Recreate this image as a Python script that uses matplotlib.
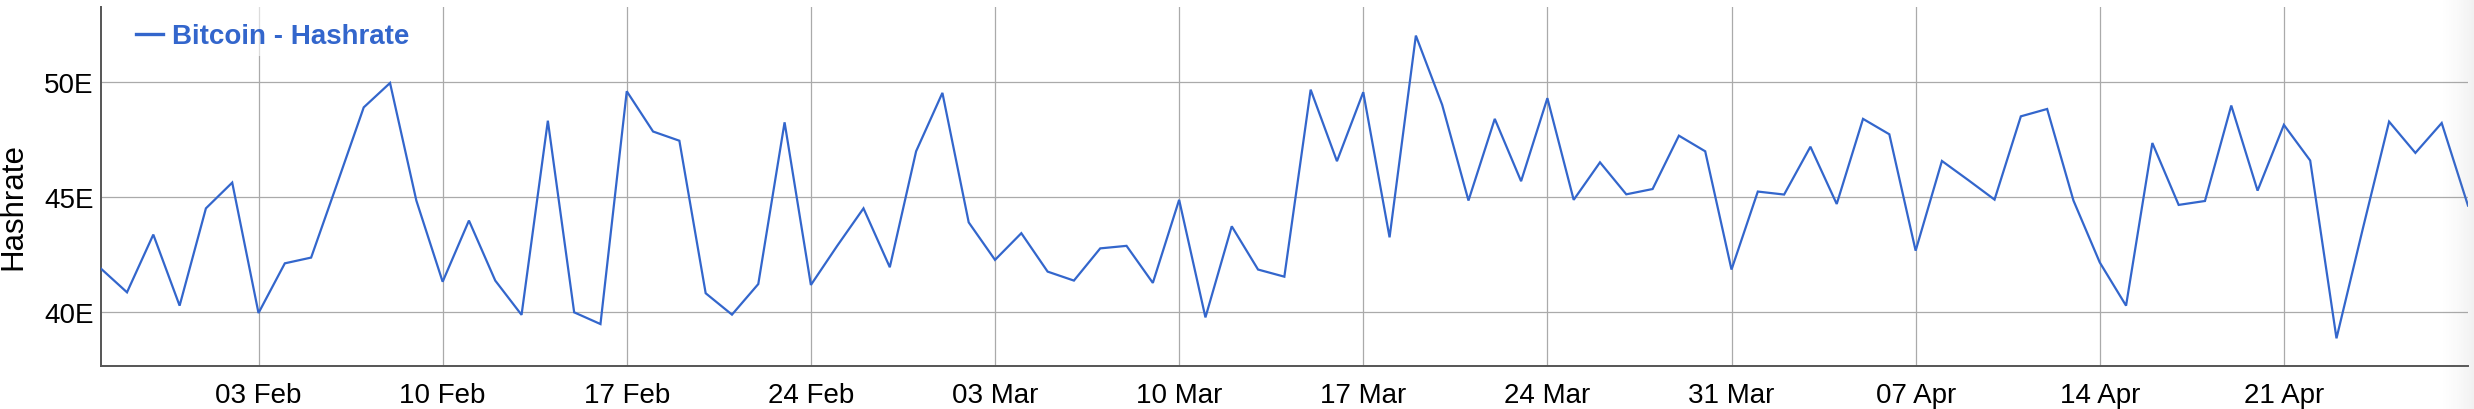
import numpy as np
import pandas as pd
import matplotlib
matplotlib.use("Agg")
import matplotlib.pyplot as plt
import matplotlib.dates as mdates
from matplotlib.ticker import FuncFormatter, FixedLocator
from matplotlib.patches import Rectangle
from matplotlib.lines import Line2D

plt.rcParams['font.family'] = ['Liberation Sans', 'DejaVu Sans']

# ---- data ----
start_date = "2019-01-28"
end_date = "2019-04-28"
hashrate = [
    41.88, 40.84, 43.35, 40.26,                                   # Jan 28-31
    44.49, 45.61, 39.94, 42.10, 42.35, 45.60, 48.88, 49.94, 44.83, 41.30,
    43.96, 41.35, 39.86, 48.30, 39.97, 39.46, 49.58, 47.83, 47.43, 40.80,
    39.87, 41.20, 48.23, 41.16, 42.86, 44.49, 41.93, 46.97,       # Feb
    49.51, 43.88, 42.25, 43.41, 41.74, 41.35, 42.75, 42.86, 41.25, 44.86,
    39.75, 43.71, 41.83, 41.52, 49.65, 46.54, 49.54, 43.23, 52.00, 48.99,
    44.83, 48.38, 45.67, 49.28, 44.86, 46.49, 45.10, 45.33, 47.65, 46.97,
    41.83,                                                        # Mar
    45.22, 45.09, 47.17, 44.68, 48.38, 47.71, 42.65, 46.55, 45.72, 44.87,
    48.49, 48.81, 44.83, 42.14, 40.26, 47.33, 44.64, 44.81, 48.96, 45.26,
    48.12, 46.57, 38.84, 43.60, 48.26, 46.90, 48.20, 44.61,       # Apr
]
series_label = "Bitcoin - Hashrate"
y_label = "Hashrate"
y_ticks = [40, 45, 50]
x_tick_dates = ["2019-02-03", "2019-02-10", "2019-02-17", "2019-02-24",
                "2019-03-03", "2019-03-10", "2019-03-17", "2019-03-24",
                "2019-03-31", "2019-04-07", "2019-04-14", "2019-04-21"]

dates = pd.date_range(start_date, end_date, freq="D")

# ---- figure ----
W, H = 2474, 410
fig = plt.figure(figsize=(W / 100, H / 100), dpi=100)
ax_l, ax_r, ax_t, ax_b = 100.7, 2468, 8.3, 366.7
ax = fig.add_axes([ax_l / W, 1 - ax_b / H, (ax_r - ax_l) / W, (ax_b - ax_t) / H])


def axx(px):
    return (px - ax_l) / (ax_r - ax_l)


def axy(py):
    return (ax_b - py) / (ax_b - ax_t)


line_color = "#3366cc"
ax.plot(dates, hashrate, color=line_color, lw=1.6, zorder=3,
        solid_joinstyle="miter")

ax.set_xlim(dates[0], dates[-1])
ax.set_ylim(37.65, 53.23)

ax.yaxis.set_major_locator(FixedLocator(y_ticks))
ax.yaxis.set_major_formatter(FuncFormatter(lambda v, p: f"{v:.0f}E"))
ax.xaxis.set_major_locator(FixedLocator(mdates.date2num(pd.to_datetime(x_tick_dates))))
ax.xaxis.set_major_formatter(mdates.DateFormatter("%d %b"))

ax.grid(True, color="#aaaaaa", lw=0.9, zorder=1)
ax.set_axisbelow(True)
ax.tick_params(axis="both", length=0, labelsize=20, colors="#000000")
ax.tick_params(axis="x", pad=12)
ax.tick_params(axis="y", pad=5)

for s in ["top", "right"]:
    ax.spines[s].set_visible(False)
for s in ["left", "bottom"]:
    ax.spines[s].set_color("#555555")
    ax.spines[s].set_linewidth(1.4)

fig.text(13.5 / W, 1 - 207 / H, y_label, rotation=90, fontsize=22.5,
         ha="center", va="center")

# legend (drawn manually in axes coordinates)
ax.add_patch(Rectangle((axx(128), axy(57)), axx(425) - axx(128), axy(8.3) - axy(57),
                       transform=ax.transAxes, facecolor="white", alpha=0.6,
                       edgecolor="none", zorder=2))
ax.add_line(Line2D([axx(136), axx(163)], [axy(34.5), axy(34.5)],
                   transform=ax.transAxes, color=line_color, lw=2.4, zorder=4))
ax.text(axx(172), axy(43.5), series_label, transform=ax.transAxes,
        fontsize=20, fontweight="bold", color=line_color,
        ha="left", va="baseline", zorder=4)

# right-edge shadow
sh = fig.add_axes([2440 / W, 0, 34 / W, 1], zorder=10)
grad = np.zeros((2, 64, 4))
grad[..., :3] = 0.55
grad[..., 3] = np.linspace(0, 1, 64)[None, :] ** 1.3 * 0.12
sh.imshow(grad, aspect="auto", extent=[0, 1, 0, 1])
sh.set_axis_off()

fig.savefig("out.png", dpi=100, facecolor="white")
